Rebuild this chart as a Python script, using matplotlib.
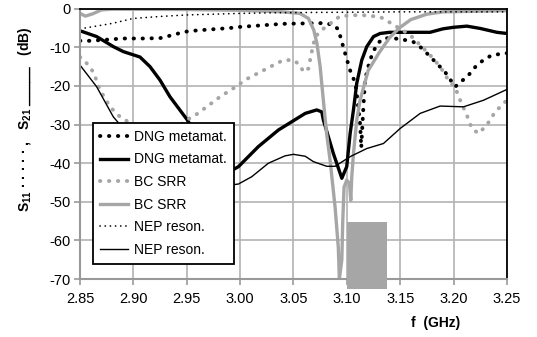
import matplotlib
matplotlib.use('Agg')
import matplotlib.pyplot as plt
from matplotlib.patches import Rectangle

# Datos (f en GHz, S en dB)
f_dng_s11 = [2.85, 2.8594, 2.875, 2.89, 2.91, 2.925, 2.9312, 2.9406, 2.95, 2.96, 2.97, 2.98,
             2.99, 3.0, 3.01, 3.02, 3.03, 3.04, 3.06, 3.08, 3.087, 3.092, 3.098, 3.103,
             3.108, 3.110, 3.1125, 3.1135, 3.115, 3.117, 3.12, 3.124, 3.129, 3.135, 3.1452,
             3.1546, 3.1624, 3.1702, 3.1827, 3.1921, 3.2015, 3.2062, 3.2125, 3.2218, 3.228,
             3.2359, 3.25]
s_dng_s11 = [-8.3, -8.3, -8.0, -7.7, -7.7, -7.6, -7.2, -6.5, -5.9, -5.6, -5.4, -5.2,
             -5.0, -4.7, -4.5, -4.3, -4.1, -3.9, -3.8, -3.7, -4.2, -5.3, -11.2, -15.9,
             -19.3, -23.7, -30.0, -36.0, -28.0, -18.5, -15.0, -11.5, -8.9, -7.6, -7.7,
             -8.1, -8.6, -10.2, -13.7, -16.4, -20.2, -19.0, -17.7, -14.6, -13.3,
             -12.0, -11.5]

f_dng_s21 = [2.85, 2.8656, 2.8812, 2.8906, 2.9062, 2.9156, 2.925, 2.9343, 2.95, 2.97, 2.985,
             2.9984, 3.0171, 3.0359, 3.061, 3.0718, 3.0765, 3.078, 3.0874, 3.0953, 3.0999,
             3.1031, 3.1062, 3.1093, 3.114, 3.1187, 3.125, 3.1312, 3.14, 3.178, 3.19, 3.2,
             3.2125, 3.225, 3.2406, 3.25]
s_dng_s21 = [-5.7, -7.2, -9.8, -11.1, -12.5, -15.0, -18.5, -22.8, -28.6, -37.0, -43.0,
             -40.9, -35.7, -31.4, -27.1, -26.2, -26.7, -28.8, -37.5, -43.9, -40.9,
             -32.3, -26.2, -19.3, -13.3, -9.8, -7.2, -6.4, -6.1, -6.1, -5.2, -4.8,
             -4.5, -5.1, -6.1, -6.4]

f_bc_s11 = [2.85, 2.8562, 2.8625, 2.8687, 2.8781, 2.8875, 2.8953, 2.92, 2.935, 2.95, 2.9578,
            2.9687, 2.9812, 2.9937, 3.0062, 3.0187, 3.0312, 3.0406, 3.05, 3.0562, 3.0593,
            3.064, 3.0671, 3.0702, 3.0765, 3.0827, 3.0874, 3.0937, 3.1125, 3.1312, 3.143,
            3.1593, 3.1702, 3.178, 3.1874, 3.1952, 3.2015, 3.2062, 3.2125, 3.2171, 3.2234,
            3.2312, 3.239, 3.2484, 3.25]
s_bc_s11 = [-12.5, -14.1, -16.4, -21.0, -25.4, -28.0, -29.3, -33.0, -32.0, -28.8, -27.6,
            -25.4, -22.8, -20.6, -18.2, -16.4, -14.6, -13.3, -13.3, -14.6, -16.4,
            -15.5, -11.2, -7.3, -5.5, -4.2, -3.2, -1.9, -1.6, -2.1, -4.0,
            -6.8, -9.8, -12.0, -15.0, -18.5, -20.4, -23.7, -27.6, -31.0, -32.3,
            -30.1, -26.7, -24.1, -23.8]

f_bc_s21 = [2.85, 2.855, 2.862, 2.87, 2.88, 2.95, 3.0, 3.04, 3.056, 3.064, 3.069, 3.072,
            3.075, 3.078, 3.081, 3.0843, 3.089, 3.092, 3.093, 3.0953, 3.0962, 3.0974,
            3.0999, 3.1024, 3.1037, 3.1046, 3.1062, 3.1093, 3.1124, 3.12, 3.13, 3.14,
            3.15, 3.16, 3.175, 3.19, 3.25]
s_bc_s21 = [-1.2, -1.9, -1.3, -0.3, -0.1, -0.2, -0.4, -0.8, -1.2, -2.5, -5.5, -9.0,
            -15.0, -23.7, -32.2, -39.2, -51.4, -61.8, -70.0, -65.0, -54.8, -46.2,
            -44.4, -45.2, -49.6, -43.6, -37.5, -28.8, -23.7, -16.0, -11.5, -7.5,
            -4.8, -2.8, -1.4, -0.8, -0.5]

f_nep_s11 = [2.85, 2.865, 2.88, 2.90, 2.925, 2.95, 2.975, 3.00, 3.04, 3.10, 3.15, 3.25]
s_nep_s11 = [-5.2, -4.5, -3.8, -2.5, -2.0, -1.6, -1.4, -1.2, -1.0, -0.9, -0.8, -0.8]

f_nep_s21 = [2.85, 2.8656, 2.8812, 2.90, 2.93, 2.96, 2.98, 2.9984, 3.0109, 3.0265, 3.0421,
             3.05, 3.061, 3.0687, 3.0812, 3.089, 3.1031, 3.1187, 3.1343, 3.15, 3.1687,
             3.1874, 3.2093, 3.228, 3.25]
s_nep_s21 = [-14.6, -20.2, -28.0, -34.0, -40.0, -44.0, -46.0, -45.4, -43.5, -40.0, -38.1,
             -37.7, -38.2, -39.6, -40.8, -40.8, -38.3, -36.2, -34.9, -31.0, -27.1,
             -25.2, -25.4, -23.7, -20.9]

# banda sombreada
banda_f = (3.10, 3.1375)
banda_s = (-72.6, -55.3)

etiquetas = ['DNG metamat.', 'DNG metamat.', 'BC SRR', 'BC SRR', 'NEP reson.', 'NEP reson.']
xticks = [2.85, 2.90, 2.95, 3.00, 3.05, 3.10, 3.15, 3.20, 3.25]
yticks = [0, -10, -20, -30, -40, -50, -60, -70]

GRIS = '#a6a6a6'
plt.rcParams['font.family'] = ['Liberation Sans', 'DejaVu Sans']
plt.rcParams['axes.unicode_minus'] = False
plt.rcParams['mathtext.fontset'] = 'custom'
plt.rcParams['mathtext.rm'] = 'Liberation Sans:bold'
plt.rcParams['mathtext.it'] = 'Liberation Sans:bold'
plt.rcParams['mathtext.bf'] = 'Liberation Sans:bold'

fig = plt.figure(figsize=(5.37, 3.37), dpi=100)
ax = fig.add_axes([0.149, 0.172, 0.795, 0.802])

puntos_grandes = dict(linestyle=(0, (0.1, 2.2)), dash_capstyle='round', linewidth=2.8)

ax.plot(f_dng_s11, s_dng_s11, color='black', label=etiquetas[0], **puntos_grandes)
ax.plot(f_dng_s21, s_dng_s21, color='black', linewidth=2.4, label=etiquetas[1])
ax.plot(f_bc_s11, s_bc_s11, color=GRIS, label=etiquetas[2], **puntos_grandes)
ax.plot(f_bc_s21, s_bc_s21, color=GRIS, linewidth=2.4, label=etiquetas[3])
ax.plot(f_nep_s11, s_nep_s11, color='black', linewidth=1.2, linestyle=(0, (0.1, 3.0)),
        dash_capstyle='round', label=etiquetas[4])
ax.plot(f_nep_s21, s_nep_s21, color='black', linewidth=1.0, label=etiquetas[5])

ax.add_patch(Rectangle((banda_f[0], banda_s[0]), banda_f[1] - banda_f[0],
                       banda_s[1] - banda_s[0], color=GRIS, clip_on=False, zorder=5, lw=0))

ax.set_xlim(2.85, 3.25)
ax.set_ylim(-70, 0)
ax.set_xticks(xticks)
ax.set_xticklabels(['%.2f' % t for t in xticks])
ax.set_yticks(yticks)
ax.grid(True, color='#b3b3b3', linewidth=1.2)
ax.set_axisbelow(True)
ax.tick_params(labelsize=10.5, length=4, color='#999999', width=1.2)
ax.tick_params(axis='x', pad=5)
ax.tick_params(axis='y', pad=3)
for lado in ['left', 'bottom']:
    ax.spines[lado].set_color('#999999')
    ax.spines[lado].set_linewidth(1.5)
for lado in ['top', 'right']:
    ax.spines[lado].set_color('black')
    ax.spines[lado].set_linewidth(1.3)

leg = ax.legend(loc='upper left', bbox_to_anchor=(0.030, 0.578), fontsize=10,
                handlelength=2.0, handletextpad=0.5, labelspacing=0.62,
                borderpad=0.5, borderaxespad=0, fancybox=False, framealpha=1,
                edgecolor='black')
leg.get_frame().set_linewidth(1.3)

fig.text(0.047, 0.647, 'S$_{11}$ \u00b7 \u00b7 \u00b7 \u00b7 \u00b7 ,   S$_{21}$ _____   (dB)',
         rotation=90, ha='center', va='center', fontsize=10, fontweight='bold')
fig.text(436 / 537, 14 / 337, 'f  (GHz)', ha='center', va='center',
         fontsize=10, fontweight='bold')

plt.savefig('out.png', dpi=100)
